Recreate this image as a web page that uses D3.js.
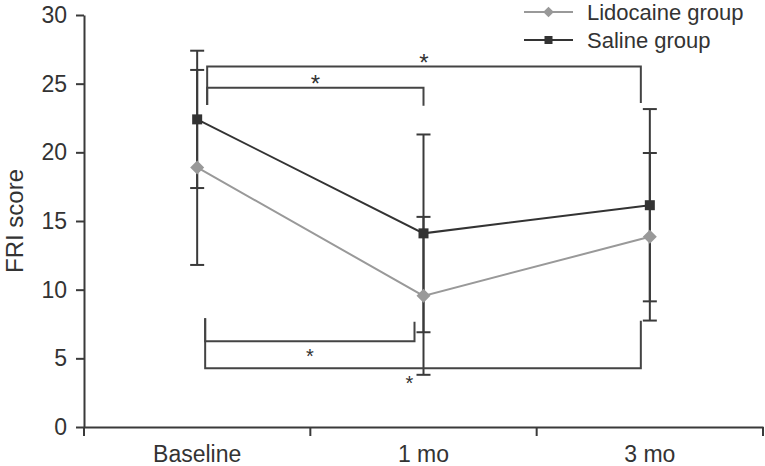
<!DOCTYPE html>
<html>
<head>
<meta charset="utf-8">
<script src="https://cdn.jsdelivr.net/npm/d3@7"></script>
<style>
  body { margin: 0; background: #fff; }
  svg { display: block; font-family: "Liberation Sans", Arial, sans-serif; }
</style>
</head>
<body>
<svg width="765" height="466"></svg>
<script>
// data
const categories = ["Baseline", "1 mo", "3 mo"];
const lidoMean = [18.9, 9.55, 13.85];
const lidoSD = [7.1, 5.75, 6.1];
const salineMean = [22.4, 14.1, 16.15];
const salineSD = [5.0, 7.2, 7.0];
const yTicks = [0, 5, 10, 15, 20, 25, 30];

// significance brackets: from / to category, line level, end levels
const topBrackets = [
  { from: 0, to: 2, level: 26.25, endFrom: 23.45, endTo: 23.6 },
  { from: 0, to: 1, level: 24.7, endFrom: 23.45, endTo: 23.4 }
];
const bottomBrackets = [
  { from: 0, to: 1, level: 6.24, endFrom: 7.92, endTo: 7.67 },
  { from: 0, to: 2, level: 4.27, endFrom: 7.92, endTo: 7.74 }
];

const svg = d3.select("svg");
const axisColor = "#3a3a3a";
const lidoColor = "#999999";
const salineColor = "#333333";

// scales
const x = d3.scaleBand()
  .domain(categories)
  .range([84, 763])
  .padding(0);
const y = d3.scaleLinear()
  .domain([0, 30])
  .range([427, 15]);
const cx = i => x(categories[i]) + x.bandwidth() / 2;

// y axis
const yAxis = svg.append("g")
  .attr("transform", "translate(84,0)")
  .call(d3.axisLeft(y).tickValues(yTicks).tickSize(8).tickPadding(9).tickSizeOuter(0));
yAxis.select(".domain").attr("stroke", axisColor).attr("stroke-width", 2);
yAxis.selectAll(".tick line").attr("stroke", axisColor).attr("stroke-width", 2);
yAxis.selectAll(".tick text")
  .attr("fill", "#333")
  .style("font-size", "23px")
  .attr("font-family", null);

// x axis: labels centred in bands, ticks at band edges
const xAxis = svg.append("g")
  .attr("transform", "translate(0,427)")
  .call(d3.axisBottom(x).tickSize(0).tickPadding(19).tickSizeOuter(0));
xAxis.select(".domain").attr("stroke", axisColor).attr("stroke-width", 2);
xAxis.selectAll(".tick text")
  .attr("fill", "#333")
  .style("font-size", "23px")
  .attr("font-family", null);

const edges = categories.map(c => x(c)).concat([x.range()[1]]);
xAxis.selectAll(".edge")
  .data(edges)
  .enter()
  .append("line")
  .attr("class", "edge")
  .attr("x1", d => d).attr("x2", d => d)
  .attr("y1", 0).attr("y2", 9)
  .attr("stroke", axisColor)
  .attr("stroke-width", 2);

// y label
svg.append("text")
  .attr("transform", "translate(23,221) rotate(-90)")
  .attr("text-anchor", "middle")
  .attr("fill", "#333")
  .style("font-size", "24px")
  .text("FRI score");

// error bars
function errorBars(means, sds) {
  const g = svg.append("g")
    .attr("stroke", axisColor)
    .attr("stroke-width", 2);
  means.forEach((m, i) => {
    const px = cx(i);
    g.append("line")
      .attr("x1", px).attr("x2", px)
      .attr("y1", y(m - sds[i])).attr("y2", y(m + sds[i]));
    [m - sds[i], m + sds[i]].forEach(v => {
      g.append("line")
        .attr("x1", px - 7).attr("x2", px + 7)
        .attr("y1", y(v)).attr("y2", y(v));
    });
  });
}
errorBars(lidoMean, lidoSD);
errorBars(salineMean, salineSD);

// lines
const line = d3.line()
  .x((d, i) => cx(i))
  .y(d => y(d));

svg.append("path")
  .datum(lidoMean)
  .attr("fill", "none")
  .attr("stroke", lidoColor)
  .attr("stroke-width", 2)
  .attr("d", line);

svg.append("path")
  .datum(salineMean)
  .attr("fill", "none")
  .attr("stroke", salineColor)
  .attr("stroke-width", 2)
  .attr("d", line);

// markers
const diamond = d3.symbol().type(d3.symbolDiamond2).size(125);
svg.append("g")
  .selectAll("path")
  .data(lidoMean)
  .enter()
  .append("path")
  .attr("d", diamond)
  .attr("transform", (d, i) => `translate(${cx(i)},${y(d)})`)
  .attr("fill", lidoColor);

svg.append("g")
  .selectAll("rect")
  .data(salineMean)
  .enter()
  .append("rect")
  .attr("x", (d, i) => cx(i) - 5)
  .attr("y", d => y(d) - 5)
  .attr("width", 10)
  .attr("height", 10)
  .attr("fill", salineColor);

// brackets
function bracket(b, dxFrom, dxTo) {
  const x1 = cx(b.from) + dxFrom;
  const x2 = cx(b.to) + dxTo;
  svg.append("path")
    .attr("d", `M${x1},${y(b.endFrom)}V${y(b.level)}H${x2}V${y(b.endTo)}`)
    .attr("fill", "none")
    .attr("stroke", "#444")
    .attr("stroke-width", 2);
  return [x1, x2];
}
function star(px, py, size) {
  svg.append("text")
    .attr("x", px)
    .attr("y", py + size * 0.57)
    .attr("text-anchor", "middle")
    .attr("fill", "#333")
    .style("font-size", size + "px")
    .text("*");
}

let t = bracket(topBrackets[0], 10, -9);
star((t[0] + t[1]) / 2, y(topBrackets[0].level) - 9, 24);
t = bracket(topBrackets[1], 10, 0);
star((t[0] + t[1]) / 2, y(topBrackets[1].level) - 9, 24);

t = bracket(bottomBrackets[0], 8, -9);
star((t[0] + t[1]) / 2, y(bottomBrackets[0].level) + 10, 20);
t = bracket(bottomBrackets[1], 8, -9);
star(cx(1) - 14, y(bottomBrackets[1].level) + 10, 20);

// legend
const legend = svg.append("g").attr("transform", "translate(524,0)");
const legendItems = [
  { label: "Lidocaine group", color: lidoColor, shape: "diamond", ly: 12 },
  { label: "Saline group", color: salineColor, shape: "square", ly: 40 }
];
legendItems.forEach(d => {
  legend.append("line")
    .attr("x1", 0).attr("x2", 49)
    .attr("y1", d.ly).attr("y2", d.ly)
    .attr("stroke", d.color)
    .attr("stroke-width", 2);
  if (d.shape === "diamond") {
    legend.append("path")
      .attr("d", d3.symbol().type(d3.symbolDiamond2).size(73))
      .attr("transform", `translate(24.5,${d.ly})`)
      .attr("fill", d.color);
  } else {
    legend.append("rect")
      .attr("x", 20.5).attr("y", d.ly - 4)
      .attr("width", 8).attr("height", 8)
      .attr("fill", d.color);
  }
  legend.append("text")
    .attr("x", 63)
    .attr("y", d.ly)
    .attr("dy", "0.36em")
    .attr("fill", "#333")
    .style("font-size", "22px")
    .text(d.label);
});
</script>
</body>
</html>
